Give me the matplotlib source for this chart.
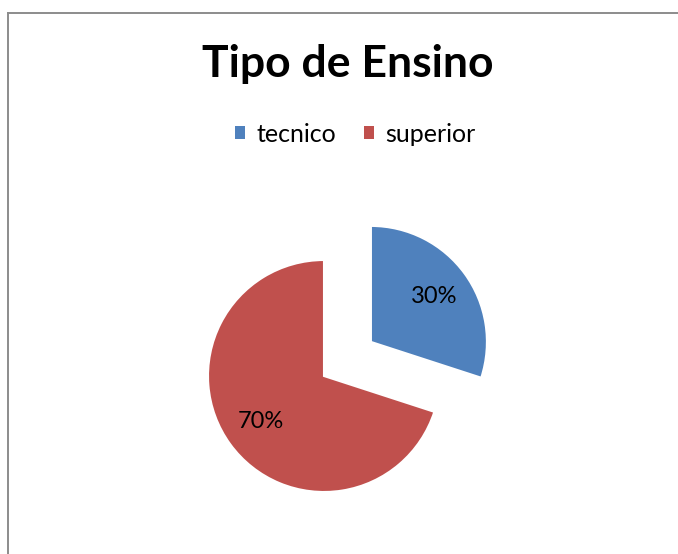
import matplotlib as mpl
mpl.use("Agg")
import matplotlib.pyplot as plt
from matplotlib.patches import Patch
from matplotlib.lines import Line2D

mpl.rcParams["font.family"] = ["Lato", "DejaVu Sans"]

TITLE = "Tipo de Ensino"
CATEGORIES = ["tecnico", "superior"]
SHARES = [30, 70]
COLORS = ["#4F81BD", "#C0504D"]
EXPLODE = [0.5, 0.0]

W, H = 678, 554
fig = plt.figure(figsize=(W / 100, H / 100), dpi=100)

# chart frame (right/bottom edges fall outside the crop)
fig.add_artist(Line2D([8 / W, 1.02], [1 - 12.5 / H] * 2, color="#8c8c8c", lw=1.4))
fig.add_artist(Line2D([8 / W] * 2, [1 - 12.5 / H, -0.02], color="#8c8c8c", lw=1.4))

# pie axes: centre of the big slice at px (324, 376), radius ~116 px
half = 232
cx, cy = 324, H - 376
ax = fig.add_axes([(cx - half) / W, (cy - half) / H, 2 * half / W, 2 * half / H])
wedges, _, autotexts = ax.pie(
    SHARES, colors=COLORS, explode=EXPLODE, startangle=90, counterclock=False,
    autopct="%1.0f%%", pctdistance=0.67, radius=1.0,
    wedgeprops=dict(edgecolor="white", linewidth=1.5),
    textprops=dict(fontsize=17, color="black"))
ax.set_xlim(-2, 2); ax.set_ylim(-2, 2)
ax.set_aspect("auto")
ax.axis("off")

fig.text(348 / W, 1 - 64 / H, TITLE, ha="center", va="center",
         fontsize=32, fontweight="bold")
handles = [Patch(facecolor=c, edgecolor="none") for c in COLORS]
fig.legend(handles, CATEGORIES, loc="center", bbox_to_anchor=(355 / W, 1 - 134 / H),
           ncol=2, frameon=False, fontsize=18, handlelength=0.42, handleheight=0.42,
           handletextpad=0.45, columnspacing=1.1)

fig.savefig("out.png", dpi=100)
